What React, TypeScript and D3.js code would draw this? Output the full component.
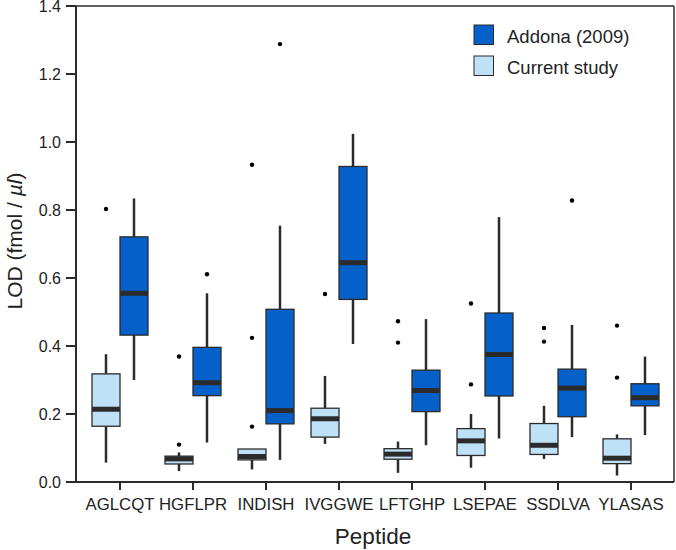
import React from "react";
import * as d3 from "d3";

const peptides = ["AGLCQT", "HGFLPR", "INDISH", "IVGGWE", "LFTGHP", "LSEPAE", "SSDLVA", "YLASAS"];
const seriesNames = ["Addona (2009)", "Current study"];
// [whiskerLow, q1, median, q3, whiskerHigh]
const currentStats = [
  [0.057, 0.164, 0.214, 0.318, 0.376],
  [0.032, 0.053, 0.068, 0.076, 0.087],
  [0.037, 0.065, 0.075, 0.097, 0.097],
  [0.112, 0.132, 0.186, 0.217, 0.312],
  [0.027, 0.067, 0.082, 0.098, 0.119],
  [0.042, 0.078, 0.121, 0.157, 0.2],
  [0.068, 0.081, 0.108, 0.172, 0.224],
  [0.019, 0.054, 0.07, 0.127, 0.14],
];
const currentOutliers = [
  [0.803],
  [0.11, 0.369],
  [0.163, 0.424, 0.933],
  [0.553],
  [0.41, 0.473],
  [0.287, 0.525],
  [0.413, 0.453],
  [0.307, 0.46],
];
const addonaStats = [
  [0.3, 0.432, 0.555, 0.721, 0.834],
  [0.116, 0.254, 0.292, 0.396, 0.555],
  [0.065, 0.171, 0.21, 0.508, 0.754],
  [0.406, 0.537, 0.645, 0.928, 1.024],
  [0.108, 0.207, 0.269, 0.329, 0.479],
  [0.128, 0.253, 0.375, 0.497, 0.779],
  [0.132, 0.192, 0.276, 0.332, 0.462],
  [0.138, 0.224, 0.248, 0.289, 0.369],
];
const addonaOutliers = [[], [0.611], [1.288], [], [], [], [0.828], []];
const yTicks = [0, 0.2, 0.4, 0.6, 0.8, 1.0, 1.2, 1.4];

const DARK = "#0560c9";
const LIGHT = "#bfe1f7";
const INK = "#2b2b2b";
const FONT = "'Liberation Sans', Arial, Helvetica, sans-serif";

export default function App() {
  const left = 76, right = 674, top = 6, bottom = 482;
  const x = d3.scalePoint<string>().domain(peptides).range([120, 631]);
  const y = d3.scaleLinear().domain([0, 1.4]).range([bottom, top]);
  const bw = 28;

  const drawBox = (stats: number[], outs: number[], x0: number, fill: string, key: string) => {
    const [lo, q1, med, q3, hi] = stats;
    const cx = x0 + bw / 2;
    return (
      <g key={key}>
        <line x1={cx} x2={cx} y1={y(hi)} y2={y(q3)} stroke={INK} strokeWidth={2.5} />
        <line x1={cx} x2={cx} y1={y(q1)} y2={y(lo)} stroke={INK} strokeWidth={2.5} />
        <rect x={x0} y={y(q3)} width={bw} height={Math.max(y(q1) - y(q3), 0.5)} fill={fill} stroke={INK} strokeWidth={1.3} />
        <line x1={x0} x2={x0 + bw} y1={y(med)} y2={y(med)} stroke={INK} strokeWidth={5} />
        {outs.map((o, i) => (
          <circle key={i} cx={cx} cy={y(o)} r={2.2} fill="#000" />
        ))}
      </g>
    );
  };

  return (
    <svg width={676} height={550} style={{ position: "absolute", left: 0, top: 0, background: "#fff" }} fontFamily={FONT}>
      {/* frame */}
      <line x1={left} x2={right} y1={top} y2={top} stroke={INK} strokeWidth={1.5} />
      <line x1={right} x2={right} y1={top} y2={bottom} stroke={INK} strokeWidth={1.5} />
      <line x1={left} x2={left} y1={top} y2={bottom} stroke={INK} strokeWidth={2} />
      <line x1={left} x2={right} y1={bottom} y2={bottom} stroke={INK} strokeWidth={2} />

      {/* y axis */}
      {yTicks.map((t) => (
        <g key={t}>
          <line x1={left - 10} x2={left} y1={y(t)} y2={y(t)} stroke={INK} strokeWidth={2} />
          <text x={61} y={y(t) + 6} textAnchor="end" fontSize={16} fill="#222">
            {d3.format(".1f")(t)}
          </text>
        </g>
      ))}
      <text transform={`translate(22,241) rotate(-90)`} textAnchor="middle" fontSize={21} fill="#222">
        LOD (fmol / <tspan fontStyle="italic">µl</tspan>)
      </text>

      {/* x axis */}
      {peptides.map((p) => (
        <g key={p}>
          <line x1={x(p)} x2={x(p)} y1={bottom} y2={bottom + 8} stroke={INK} strokeWidth={2} />
          <text x={x(p)} y={510} textAnchor="middle" fontSize={16.8} fill="#222">
            {p}
          </text>
        </g>
      ))}
      <text x={373} y={544} textAnchor="middle" fontSize={22.5} fill="#222">
        Peptide
      </text>

      {/* legend */}
      {seriesNames.map((s, i) => (
        <g key={s} transform={`translate(474,${25 + i * 31})`}>
          <rect x={0} y={0} width={19.5} height={19.5} fill={i === 0 ? DARK : LIGHT} stroke={INK} strokeWidth={1} />
          <text x={33} y={18} fontSize={18.5} fill="#222">
            {s}
          </text>
        </g>
      ))}

      {/* boxes */}
      {peptides.map((p, i) => (
        <g key={p}>
          {drawBox(currentStats[i], currentOutliers[i], (x(p) as number) - bw, LIGHT, "c")}
          {drawBox(addonaStats[i], addonaOutliers[i], x(p) as number, DARK, "a")}
        </g>
      ))}
    </svg>
  );
}
